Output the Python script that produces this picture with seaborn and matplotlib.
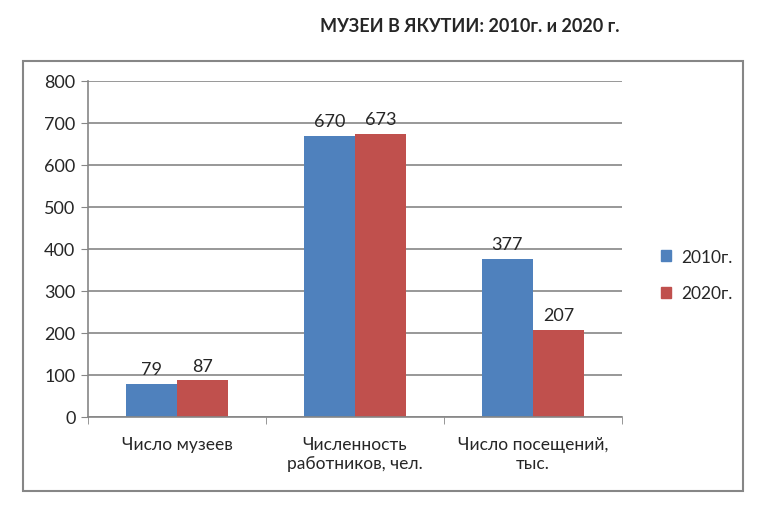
import pandas as pd
import matplotlib.pyplot as plt
import matplotlib.patches as mpatches
import seaborn as sns

# === Данные ===
categories = ["Число музеев", "Численность\nработников, чел.", "Число посещений,\nтыс."]
years = ["2010г.", "2020г."]
values_2010 = [79, 670, 377]
values_2020 = [87, 673, 207]
colors = ["#4F81BD", "#C0504D"]

df = pd.DataFrame({
    "Категория": categories * 2,
    "Год": [years[0]] * 3 + [years[1]] * 3,
    "Значение": values_2010 + values_2020,
})

sns.set_style("white")
plt.rcParams["font.family"] = ["Lato", "DejaVu Sans"]

fig = plt.figure(figsize=(7.68, 5.10), dpi=100)

# рамка вокруг области диаграммы
fig.patches.append(mpatches.Rectangle((23 / 768, 1 - 492 / 510), 720 / 768, 430 / 510,
                                      transform=fig.transFigure, fill=False,
                                      edgecolor="#868686", linewidth=1.5))

ax = fig.add_axes([88 / 768, 1 - 418 / 510, 534 / 768, 336 / 510])
sns.barplot(data=df, x="Категория", y="Значение", hue="Год", palette=colors,
            width=0.575, saturation=1, linewidth=0, ax=ax, legend=False)

# подписи значений
for cont in ax.containers:
    ax.bar_label(cont, padding=5, fontsize=13)

ax.set_ylim(0, 800)
ax.set_xlim(-0.5, 2.5)
ax.set_yticks(range(0, 801, 100))
ax.yaxis.grid(True, color="#868686", linewidth=1.2)
ax.set_axisbelow(True)
ax.set_xlabel("")
ax.set_ylabel("")
for s in ["top", "right"]:
    ax.spines[s].set_visible(False)
ax.spines["left"].set_color("#868686")
ax.spines["bottom"].set_color("#868686")
ax.spines["left"].set_linewidth(1.2)
ax.spines["bottom"].set_linewidth(1.2)

ax.tick_params(axis="y", labelsize=13, length=5, color="#868686", left=True, pad=4)
ax.tick_params(axis="x", which="major", labelsize=12.5, length=0, pad=14)
ax.set_xticks([-0.5, 0.5, 1.5, 2.5], minor=True)
ax.tick_params(axis="x", which="minor", length=5, color="#868686", bottom=True)

# легенда
handles = [mpatches.Patch(color=c, label=y) for c, y in zip(colors, years)]
fig.legend(handles=handles, loc="center left", bbox_to_anchor=(645 / 768, 1 - 276 / 510),
           frameon=False, fontsize=12.5, handlelength=0.6, handleheight=0.6,
           labelspacing=1.2, handletextpad=0.6)

fig.text(470 / 768, 1 - 27 / 510, "МУЗЕИ В ЯКУТИИ: 2010г. и 2020 г.",
         ha="center", va="center", fontsize=13, fontweight="bold")

fig.savefig("out.png", dpi=100)
